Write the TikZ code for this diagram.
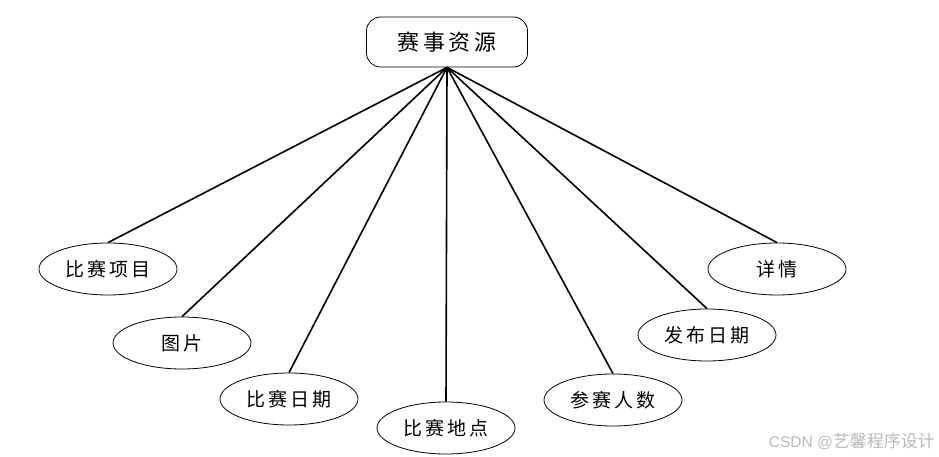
\documentclass[tikz,border=0pt]{standalone}
\usepackage{fontspec}
\setmainfont{Liberation Serif}
\newfontfamily\cjk{Noto Sans CJK SC}
\newfontfamily\wmsans{Liberation Sans}
\usetikzlibrary{shapes.geometric}
\begin{document}
\begin{tikzpicture}[x=1pt,y=-1pt,
  topbox/.style={draw, rounded corners=14pt, minimum width=161pt, minimum height=50pt, inner sep=0pt, font=\cjk\fontsize{22}{24}\selectfont, line width=0.8pt},
  attr/.style={draw, ellipse, minimum width=138pt, minimum height=52pt, inner sep=0pt, font=\cjk\fontsize{19}{21}\selectfont, line width=0.8pt},
  link/.style={line width=1.6pt}]
\useasboundingbox (0,0) rectangle (939,457);
\node[topbox] (root) at (447,42) {赛\,事\,资\,源};
\node[attr] (xm) at (108,269) {比\,赛\,项\,目};
\node[attr] (tp) at (182,343) {图\,片};
\node[attr] (rq) at (289,399) {比\,赛\,日\,期};
\node[attr] (dd) at (446,428) {比\,赛\,地\,点};
\node[attr] (rs) at (613,400) {参\,赛\,人\,数};
\node[attr] (fb) at (707,335) {发\,布\,日\,期};
\node[attr] (xq) at (777,269) {详\,情};
\foreach \t in {xm,tp,rq,dd,rs,fb,xq} \draw[link] (root.south) -- (\t.north);
\node[text=gray!55, inner sep=0pt, anchor=east] (wm) at (935,441) {{\wmsans\fontsize{15.5}{17}\selectfont CSDN @}{\cjk\fontsize{17}{18}\selectfont 艺馨程序设计}};
\end{tikzpicture}
\end{document}
